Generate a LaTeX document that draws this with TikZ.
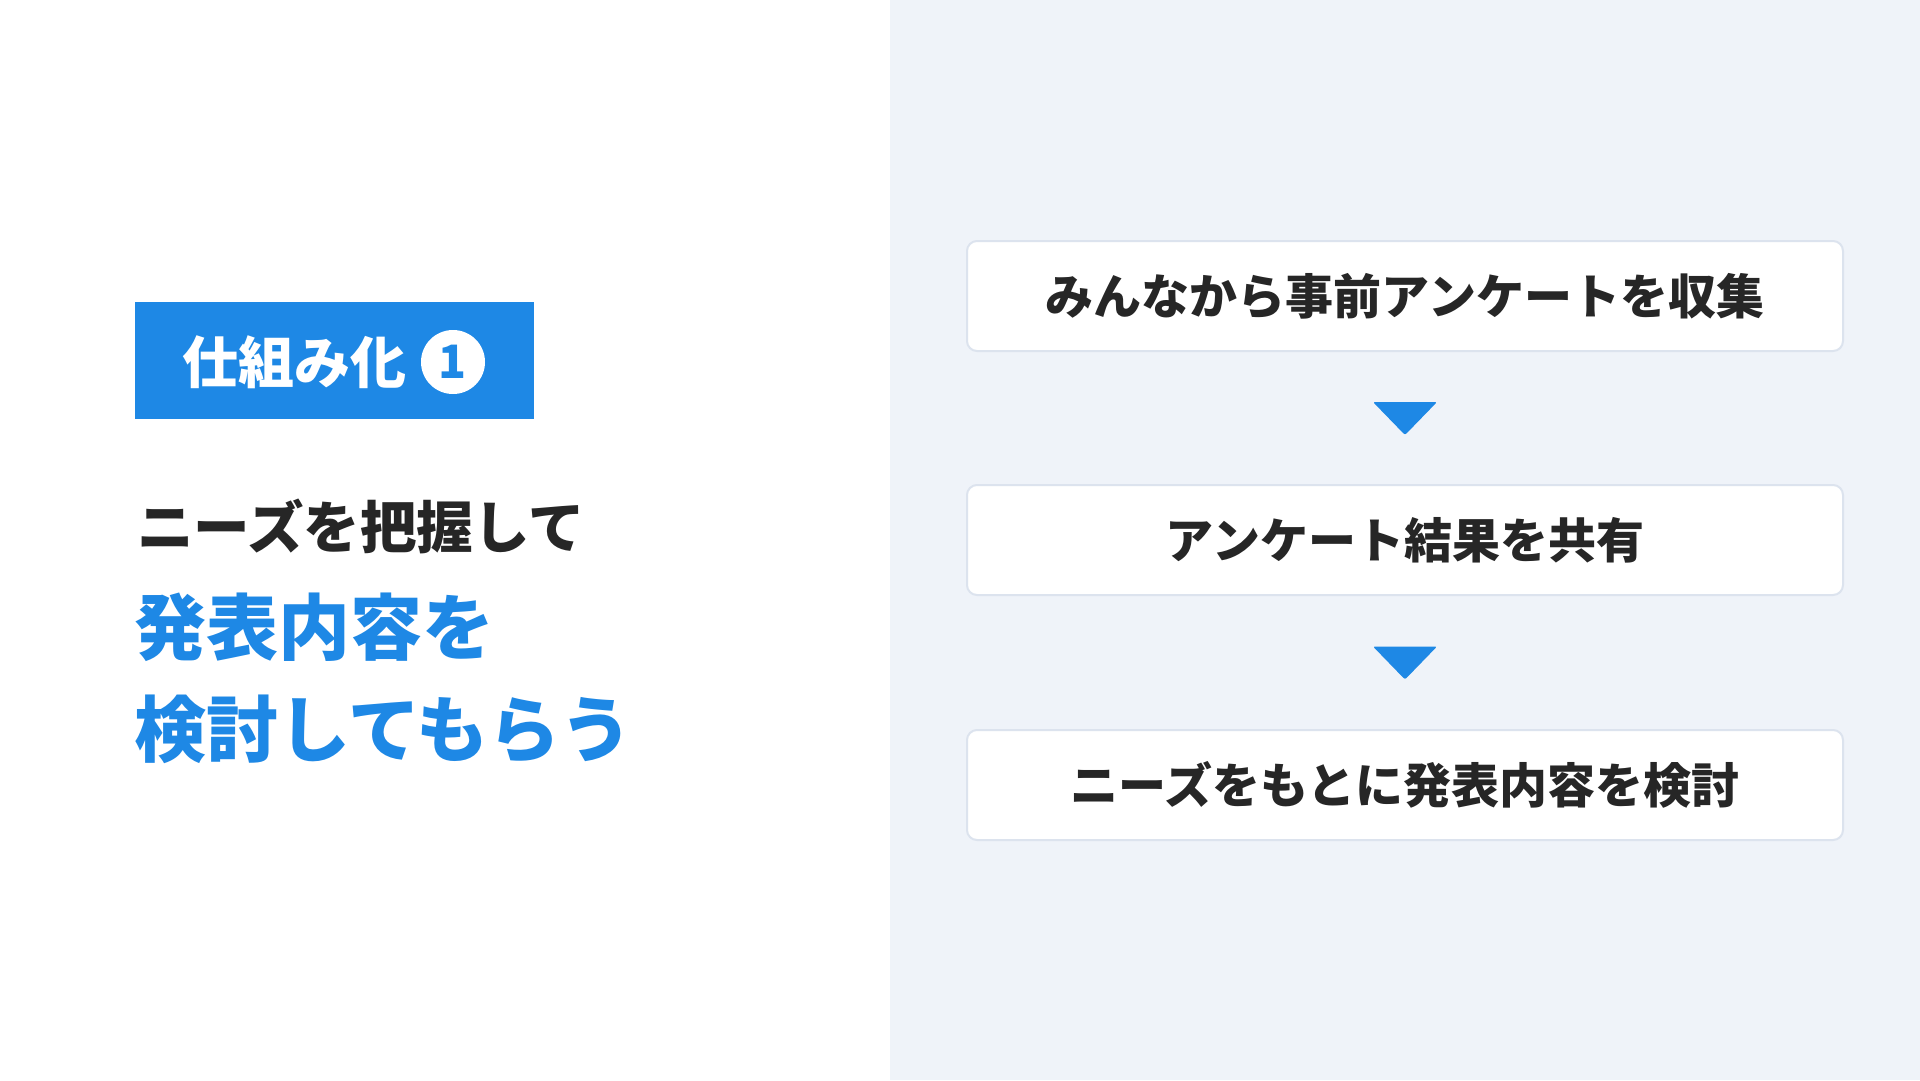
\documentclass[tikz,border=0pt]{standalone}
\usepackage{fontspec}
\setmainfont{Noto Sans CJK JP}
\usetikzlibrary{calc}
\definecolor{tagblue}{HTML}{1E88E5}
\definecolor{inkdark}{HTML}{262626}
\definecolor{panelbg}{HTML}{EFF3F9}
\definecolor{boxline}{HTML}{DCE3EE}
\begin{document}
\begin{tikzpicture}[x=1pt,y=-1pt]
  \tikzset{
    stepbox/.style={draw=boxline,line width=2pt,fill=white,rounded corners=10pt,
      minimum width=876pt,minimum height=110pt,inner sep=0pt,text=inkdark,
      font={\fontsize{48pt}{56pt}\selectfont\bfseries}},
    headline/.style={anchor=west,inner sep=0pt,font={\fontsize{#1}{#1}\selectfont\bfseries}},
    flowtip/.style={fill=tagblue,rounded corners=2pt}
  }
  \useasboundingbox (0,0) rectangle (1920,1080);
  \fill[white] (0,0) rectangle (890,1080);
  \fill[panelbg] (890,0) rectangle (1920,1080);
  % tag
  \node[fill=tagblue,anchor=north west,minimum width=399pt,minimum height=117pt,inner sep=0pt] (tag) at (135,302) {};
  \node[headline=56pt,text=white] (tagtxt) at (182,362) {仕組み化};
  \node[circle,fill=white,minimum size=64pt,inner sep=0pt,text=tagblue,
    font={\fontsize{46pt}{46pt}\selectfont\bfseries}] (tagnum) at (453,362) {1};
  % left message
  \node[headline=56.5pt,text=inkdark] (need) at (137,526) {ニーズを把握して};
  \node[headline=72pt,text=tagblue] (plan) at (134,627) {発表内容を};
  \node[headline=72pt,text=tagblue] (review) at (134,729) {検討してもらう};
  % flow
  \node[stepbox] (s1) at (1405,296) {みんなから事前アンケートを収集};
  \node[stepbox] (s2) at (1405,540) {アンケート結果を共有};
  \node[stepbox] (s3) at (1405,785) {ニーズをもとに発表内容を検討};
  \foreach \a/\b in {s1/s2,s2/s3}
    \fill[flowtip] ($(\a.south)!.5!(\b.north)$) ++(-32,-16) -- ++(64,0) -- ++(-32,33) -- cycle;
\end{tikzpicture}
\end{document}
